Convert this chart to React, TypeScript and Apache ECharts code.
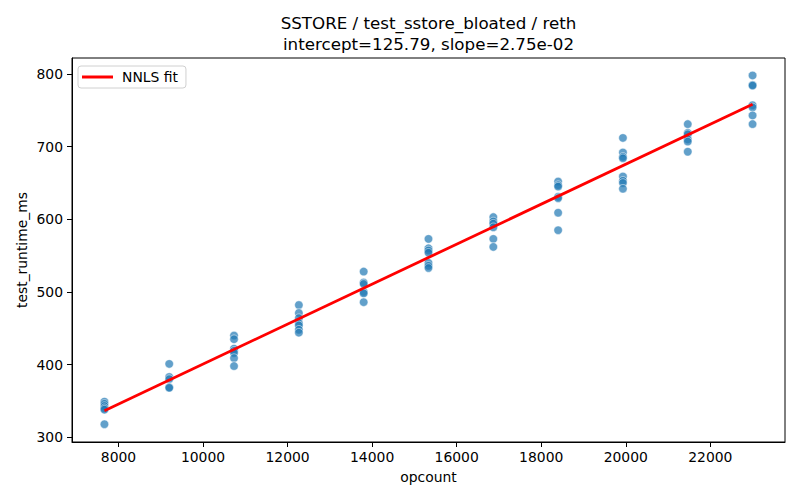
import React, { useEffect, useRef } from "react";
import * as echarts from "echarts";

// opcount values (x) for each group of runs
const opcounts = [7667, 9200, 10733, 12267, 13800, 15333, 16867, 18400, 19933, 21467, 23000];

// test_runtime_ms values per opcount group
const runtimes: number[][] = [
  [349, 346, 343, 340, 338, 318],
  [401, 383, 380, 369, 368],
  [440, 435, 422, 419, 416, 409, 398],
  [482, 471, 464, 457, 454, 448, 444],
  [528, 513, 511, 500, 498, 486],
  [573, 560, 557, 554, 540, 536, 533],
  [603, 597, 594, 589, 573, 562],
  [652, 647, 645, 631, 629, 609, 585],
  [712, 692, 686, 684, 659, 653, 650, 642],
  [731, 719, 717, 710, 707, 693],
  [798, 785, 784, 757, 754, 743, 731],
];

// NNLS fit endpoints (intercept=125.79, slope=2.75e-02)
const fitX = [7667, 23000];
const fitY = [336.6, 758.3];

const xTicks = [8000, 10000, 12000, 14000, 16000, 18000, 20000, 22000];
const yTicks = [300, 400, 500, 600, 700, 800];

const titleLine1 = "SSTORE / test_sstore_bloated / reth";
const titleLine2 = "intercept=125.79, slope=2.75e-02";
const xLabel = "opcount";
const yLabel = "test_runtime_ms";
const fitName = "NNLS fit";

const FONT = "DejaVu Sans";

export default function App() {
  const ref = useRef<HTMLDivElement>(null);

  useEffect(() => {
    if (!ref.current) return;
    const chart = echarts.init(ref.current, undefined, { renderer: "svg" });

    const points: number[][] = [];
    opcounts.forEach((x, i) => {
      runtimes[i].forEach((y) => points.push([x, y]));
    });

    const gridLeft = 72;
    const gridRight = 15;
    const gridTop = 58;
    const gridBottom = 58;
    const centerX = (gridLeft + (800 - gridRight)) / 2;
    const centerY = (gridTop + (500 - gridBottom)) / 2;

    chart.setOption({
      animation: false,
      backgroundColor: "#ffffff",
      textStyle: { fontFamily: FONT },
      grid: {
        left: gridLeft,
        right: gridRight,
        top: gridTop,
        bottom: gridBottom,
        show: true,
        borderColor: "#000",
        borderWidth: 1,
        backgroundColor: "transparent",
      },
      legend: {
        left: 78,
        top: 66,
        orient: "vertical",
        padding: [4, 8, 4, 4],
        borderColor: "#d0d0d0",
        borderWidth: 1,
        borderRadius: 3,
        backgroundColor: "rgba(255,255,255,0.8)",
        itemWidth: 31,
        itemHeight: 3,
        data: [{ name: fitName, icon: "rect" }],
        textStyle: {
          fontFamily: FONT,
          fontSize: 13.9,
          color: "#000",
          padding: [0, 0, 0, 4],
        },
      },
      xAxis: {
        type: "value",
        min: 6900,
        max: 23767,
        axisLine: { show: true, onZero: false, lineStyle: { color: "#000", width: 1 } },
        axisTick: {
          show: true,
          length: 5,
          customValues: xTicks,
          lineStyle: { color: "#000", width: 1 },
        },
        axisLabel: {
          customValues: xTicks,
          margin: 8,
          fontFamily: FONT,
          fontSize: 13.9,
          color: "#000",
          formatter: (v: number) => String(v),
        },
        splitLine: { show: false },
      },
      yAxis: {
        type: "value",
        min: 293.5,
        max: 822,
        axisLine: { show: true, onZero: false, lineStyle: { color: "#000", width: 1 } },
        axisTick: {
          show: true,
          length: 5,
          customValues: yTicks,
          lineStyle: { color: "#000", width: 1 },
        },
        axisLabel: {
          customValues: yTicks,
          margin: 9,
          fontFamily: FONT,
          fontSize: 13.9,
          color: "#000",
          formatter: (v: number) => String(v),
        },
        splitLine: { show: false },
      },
      series: [
        {
          type: "scatter",
          name: "runs",
          data: points,
          symbolSize: 8.5,
          z: 2,
          itemStyle: {
            color: "#1f77b4",
            opacity: 0.7,
            borderColor: "#ffffff",
            borderWidth: 0.7,
          },
        },
        {
          type: "line",
          name: fitName,
          data: fitX.map((x, i) => [x, fitY[i]]),
          showSymbol: false,
          symbol: "none",
          z: 3,
          lineStyle: { color: "#ff0000", width: 2.8 },
          itemStyle: { color: "#ff0000" },
        },
      ],
      graphic: [
        {
          type: "text",
          x: centerX,
          y: 23,
          style: {
            text: titleLine1,
            fontFamily: FONT,
            fontSize: 16.7,
            fill: "#000",
            textAlign: "center",
            textVerticalAlign: "middle",
          },
        },
        {
          type: "text",
          x: centerX,
          y: 44,
          style: {
            text: titleLine2,
            fontFamily: FONT,
            fontSize: 16.7,
            fill: "#000",
            textAlign: "center",
            textVerticalAlign: "middle",
          },
        },
        {
          type: "text",
          x: centerX,
          y: 477,
          style: {
            text: xLabel,
            fontFamily: FONT,
            fontSize: 13.9,
            fill: "#000",
            textAlign: "center",
            textVerticalAlign: "middle",
          },
        },
        {
          type: "text",
          x: 22,
          y: centerY,
          rotation: Math.PI / 2,
          style: {
            text: yLabel,
            fontFamily: FONT,
            fontSize: 13.9,
            fill: "#000",
            textAlign: "center",
            textVerticalAlign: "middle",
          },
        },
      ],
    });

    return () => chart.dispose();
  }, []);

  return (
    <div
      ref={ref}
      style={{ position: "fixed", left: 0, top: 0, width: 800, height: 500 }}
    />
  );
}
